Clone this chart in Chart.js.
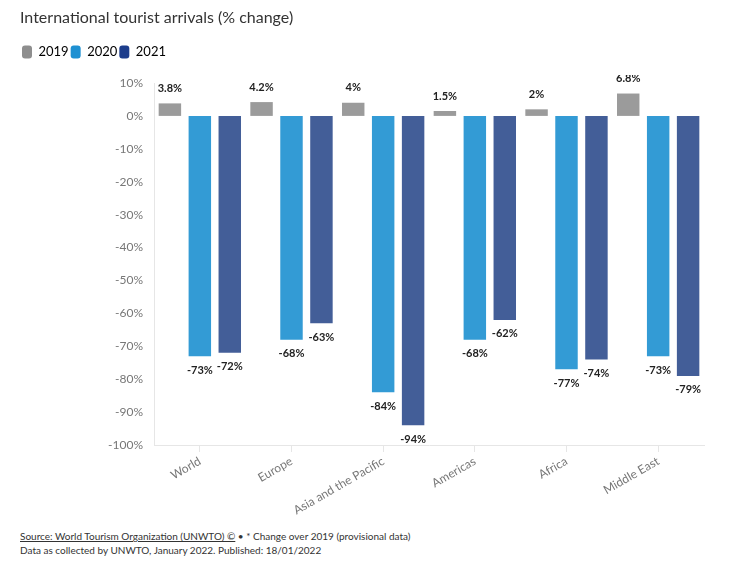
<!DOCTYPE html>
<html>
<head>
<meta charset="utf-8">
<script src="https://cdn.jsdelivr.net/npm/chart.js@4.4.0/dist/chart.umd.min.js"></script>
<style>
  html, body { margin: 0; padding: 0; background: #fff; }
  body { width: 737px; height: 572px; position: relative; overflow: hidden; font-family: Lato, sans-serif; }
  #wrap { position: absolute; left: 0; top: 0; width: 737px; height: 515px; }
  #foot { position: absolute; left: 20px; top: 529px; font-size: 10px; line-height: 14px; color: #333; }
  #foot u { text-decoration: underline; }
</style>
</head>
<body>
<div id="wrap"><canvas id="c" width="737" height="515"></canvas></div>
<div id="foot"><u>Source: World Tourism Organization (UNWTO) ©</u> • * Change over 2019 (provisional data)<br>Data as collected by UNWTO, January 2022. Published: 18/01/2022</div>
<script>
const categories = ["World", "Europe", "Asia and the Pacific", "Americas", "Africa", "Middle East"];
const seriesNames = ["2019", "2020", "2021"];
const values2019 = [3.8, 4.2, 4, 1.5, 2, 6.8];
const values2020 = [-73, -68, -84, -68, -77, -73];
const values2021 = [-72, -63, -94, -62, -74, -79];
const yTicks = [10, 0, -10, -20, -30, -40, -50, -60, -70, -80, -90, -100];

const barColors = ["#9b9b9b", "#339bd5", "#435e98"];
const legendColors = ["#8e8e8e", "#1e90d2", "#1d3d8c"];
const FONT = "Lato, sans-serif";

const labelPlugin = {
  id: "barLabels",
  afterDatasetsDraw(chart) {
    const ctx = chart.ctx;
    ctx.save();
    ctx.beginPath();
    ctx.rect(0, chart.chartArea.top - 8, chart.width, chart.height);
    ctx.clip();
    ctx.font = "bold 11px " + FONT;
    ctx.fillStyle = "#222";
    ctx.textAlign = "center";
    ctx.textBaseline = "middle";
    chart.data.datasets.forEach((ds, i) => {
      const meta = chart.getDatasetMeta(i);
      meta.data.forEach((bar, j) => {
        const v = ds.data[j];
        const y = v >= 0 ? bar.y - 15 : bar.y + 14;
        ctx.fillText(v + "%", bar.x, y);
      });
    });
    ctx.restore();
  }
};

new Chart(document.getElementById("c"), {
  type: "bar",
  data: {
    labels: categories,
    datasets: [values2019, values2020, values2021].map((d, i) => ({
      label: seriesNames[i],
      data: d,
      backgroundColor: barColors[i],
      borderWidth: 0,
      categoryPercentage: 0.98,
      barPercentage: 0.75
    }))
  },
  options: {
    responsive: false,
    animation: false,
    devicePixelRatio: 1,
    layout: { padding: { left: 20, right: 33, top: 0, bottom: 0 } },
    plugins: {
      title: {
        display: true,
        text: "International tourist arrivals (% change)",
        align: "start",
        color: "#333",
        font: { family: FONT, size: 16, weight: "normal" },
        padding: { top: 8, bottom: 16.3 }
      },
      subtitle: {
        display: true,
        text: "",
        weight: 500,
        font: { family: FONT, size: 10, lineHeight: 1 },
        padding: { top: 0, bottom: 4.5 }
      },
      legend: {
        display: true,
        align: "start",
        labels: {
          boxWidth: 10,
          boxHeight: 13,
          padding: 2,
          color: "#333",
          useBorderRadius: true,
          borderRadius: 3,
          font: { family: FONT, size: 13 },
          generateLabels(chart) {
            return chart.data.datasets.map((ds, i) => ({
              text: ds.label,
              fillStyle: legendColors[i],
              strokeStyle: legendColors[i],
              lineWidth: 0,
              borderRadius: 3,
              hidden: false,
              datasetIndex: i
            }));
          }
        }
      },
      tooltip: { enabled: false }
    },
    scales: {
      x: {
        grid: { display: true, drawOnChartArea: false, drawTicks: true, tickLength: 7, offset: false, color: "#e6e6e6" },
        border: { display: true, color: "#e6e6e6" },
        ticks: {
          color: "#777",
          font: { family: FONT, size: 12 },
          maxRotation: 30,
          minRotation: 30,
          padding: 2
        },
        afterFit(scale) { scale.height = 70; scale.paddingLeft = 0; scale.paddingRight = 0; }
      },
      y: {
        min: -100,
        max: 10,
        afterBuildTicks(scale) { scale.ticks = yTicks.slice().reverse().map(v => ({ value: v })); },
        grid: { display: false, drawTicks: false },
        border: { display: true, color: "#e6e6e6" },
        ticks: {
          color: "#777",
          font: { family: FONT, size: 12 },
          padding: 11,
          callback: v => v + "%"
        },
        afterFit(scale) { scale.width = 134; }
      }
    }
  },
  plugins: [labelPlugin]
});
</script>
</body>
</html>
